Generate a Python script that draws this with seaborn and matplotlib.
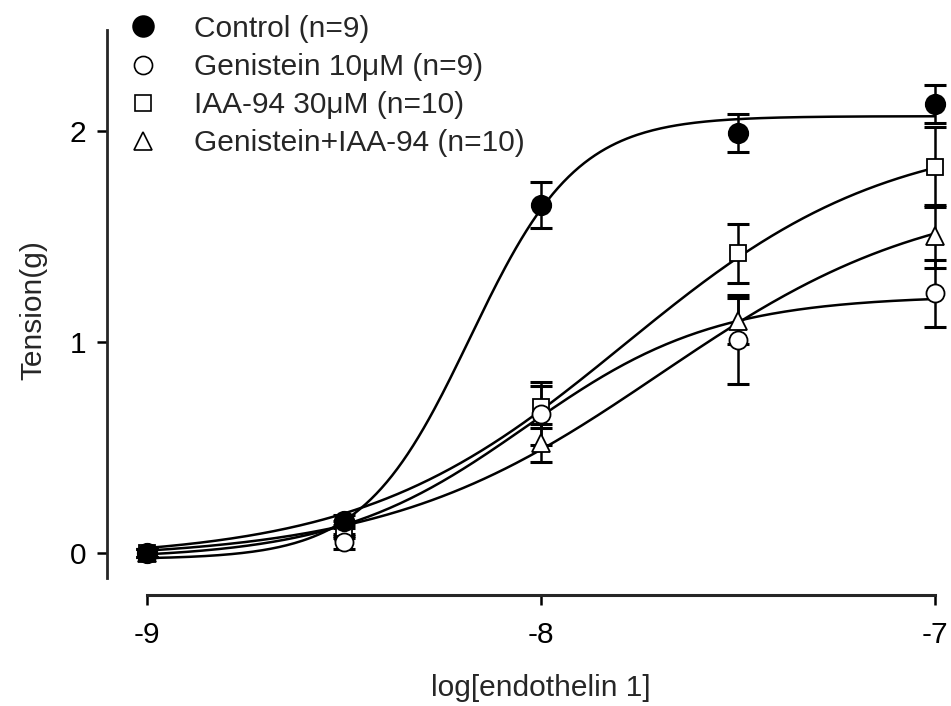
import numpy as np
import pandas as pd
import matplotlib
matplotlib.use("Agg")
import matplotlib.pyplot as plt
import seaborn as sns
from matplotlib.lines import Line2D

# ---- data ----
log_conc = [-9.0, -8.5, -8.0, -7.5, -7.0]
series_names = ["Control (n=9)", "Genistein 10μM (n=9)", "IAA-94 30μM (n=10)", "Genistein+IAA-94 (n=10)"]
control_mean = [0.00, 0.15, 1.65, 1.99, 2.13]
control_sem = [0.02, 0.03, 0.11, 0.09, 0.09]
genistein_mean = [0.00, 0.05, 0.66, 1.01, 1.23]
genistein_sem = [0.02, 0.03, 0.15, 0.21, 0.16]
iaa_mean = [0.00, 0.12, 0.69, 1.42, 1.83]
iaa_sem = [0.02, 0.03, 0.10, 0.14, 0.19]
combo_mean = [0.00, 0.10, 0.52, 1.10, 1.50]
combo_sem = [0.02, 0.03, 0.09, 0.11, 0.15]

# fitted sigmoid (Hill) parameters: bottom, top, logEC50, hill slope
control_fit = [-0.03, 2.07, -8.18, 3.2]
genistein_fit = [-0.03, 1.22, -8.04, 1.8]
iaa_fit = [-0.03, 2.00, -7.79, 1.3]
combo_fit = [-0.03, 1.72, -7.70, 1.25]

means = [control_mean, genistein_mean, iaa_mean, combo_mean]
sems = [control_sem, genistein_sem, iaa_sem, combo_sem]
fits = [control_fit, genistein_fit, iaa_fit, combo_fit]
markers = ["o", "o", "s", "^"]
faces = ["black", "white", "white", "white"]
msizes = [14, 13, 12, 13]

FS = 21.5

sns.set_style("ticks")
plt.rcParams["font.family"] = ["Liberation Sans", "DejaVu Sans"]

fig = plt.figure(figsize=(9.51, 7.06), dpi=100)
ax = fig.add_axes([147 / 951, 1 - 595 / 706, 788 / 951, (595 - 25.5) / 706])

xs = np.linspace(-9, -7, 300)
rows = []
for name, (b, t, ec, h) in zip(series_names, fits):
    ys = b + (t - b) / (1 + 10 ** ((ec - xs) * h))
    rows.append(pd.DataFrame({"x": xs, "y": ys, "series": name}))
curves = pd.concat(rows, ignore_index=True)
sns.lineplot(data=curves, x="x", y="y", units="series", estimator=None,
             color="black", lw=1.8, ax=ax, legend=False, zorder=2)

# draw in reverse so control sits on top
order = [3, 2, 1, 0]
for i in order:
    ax.errorbar(log_conc, means[i], yerr=sems[i], fmt="none", ecolor="black",
                elinewidth=1.8, capsize=8, capthick=2.2, zorder=3, clip_on=False)
    ax.plot(log_conc, means[i], linestyle="none", marker=markers[i], ms=msizes[i],
            mfc=faces[i], mec="black", mew=1.3, zorder=4, clip_on=False)

ax.set_xlim(-9, -7)
ax.set_ylim(-0.2, 2.5)
ax.set_xticks([-9, -8, -7])
ax.set_xticklabels(["-9", "-8", "-7"])
ax.set_yticks([0, 1, 2])
ax.set_yticklabels(["0", "1", "2"])
ax.tick_params(axis="both", labelsize=FS, width=1.8, length=7, direction="out", colors="black")
ax.tick_params(axis="x", pad=12)
ax.tick_params(axis="y", pad=8)

sns.despine(ax=ax, top=True, right=True)
ax.spines["left"].set_position(("outward", 29))
ax.spines["left"].set_bounds(-0.12, 2.48)
ax.spines["left"].set_linewidth(2)
ax.spines["bottom"].set_linewidth(2.2)

ax.set_xlabel("log[endothelin 1]", fontsize=FS, labelpad=18)
ax.set_ylabel("Tension(g)", fontsize=FS, labelpad=16)

handles = [
    Line2D([], [], linestyle="none", marker="o", ms=15, mfc="black", mec="black", mew=1.2),
    Line2D([], [], linestyle="none", marker="o", ms=13, mfc="white", mec="black", mew=1.2),
    Line2D([], [], linestyle="none", marker="s", ms=11, mfc="white", mec="black", mew=1.2),
    Line2D([], [], linestyle="none", marker="^", ms=13, mfc="white", mec="black", mew=1.2),
]
leg = ax.legend(handles, series_names, loc="upper left", bbox_to_anchor=(106 / 951, 1 - 0 / 706),
                bbox_transform=fig.transFigure, frameon=False, fontsize=FS,
                handletextpad=0.95, labelspacing=0.34, handlelength=1.5, borderpad=0)

fig.savefig("out.png", dpi=100)
